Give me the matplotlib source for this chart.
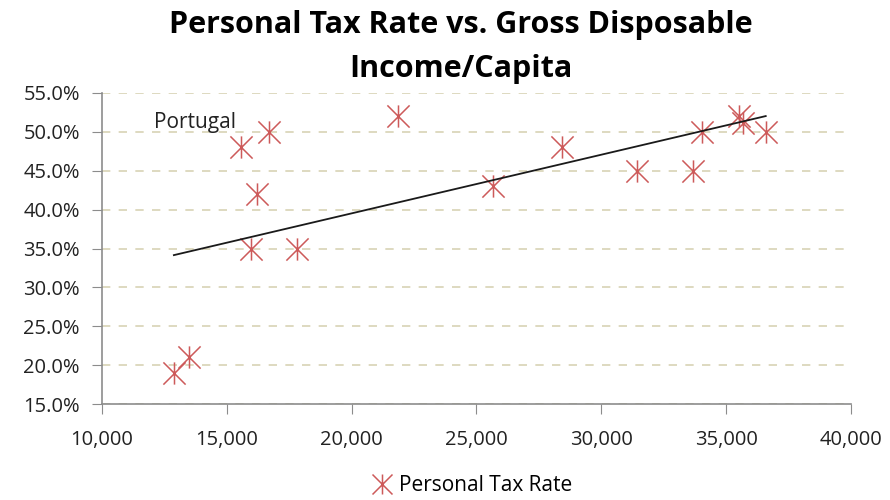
import numpy as np
import matplotlib.pyplot as plt
from matplotlib.path import Path
from matplotlib.ticker import FuncFormatter, MultipleLocator

# Gross disposable income per capita vs personal tax rate (%)
income = [12880, 13480, 15570, 16690, 16210, 15970, 17810, 21860,
          25660, 28410, 31450, 33680, 34020, 35520, 35660, 36590]
tax_rate = [19.0, 21.0, 48.0, 50.0, 42.0, 35.0, 35.0, 52.0,
            43.0, 48.0, 45.0, 45.0, 50.0, 52.0, 51.2, 50.0]

plt.rcParams['font.family'] = ['Open Sans', 'DejaVu Sans']

# X with a vertical bar, like the Excel asterisk marker
star = Path([(-1, -1), (1, 1), (-1, 1), (1, -1), (0, -1), (0, 1)],
            [Path.MOVETO, Path.LINETO, Path.MOVETO, Path.LINETO,
             Path.MOVETO, Path.LINETO])

fig = plt.figure(figsize=(8.9, 5), dpi=100)
ax = fig.add_axes([0.1146, 0.192, 0.8414, 0.622])

ax.plot(income, tax_rate, linestyle='none', marker=star, markersize=16,
        markeredgewidth=1.1, color='#cd5a5a', label='Personal Tax Rate')

# linear trendline
fit = np.polyfit(income, tax_rate, 1)
xs = np.array([min(income), max(income)])
ax.plot(xs, np.polyval(fit, xs), color='#1a1a1a', linewidth=1.3)

ax.text(12100, 51.2, 'Portugal', fontsize=15, va='center', ha='left', color='#222222')

ax.set_xlim(10000, 40000)
ax.set_ylim(15, 55)
ax.xaxis.set_major_locator(MultipleLocator(5000))
ax.yaxis.set_major_locator(MultipleLocator(5))
ax.xaxis.set_major_formatter(FuncFormatter(lambda v, p: f'{v:,.0f}'))
ax.yaxis.set_major_formatter(FuncFormatter(lambda v, p: f'{v:.1f}%'))
ax.grid(axis='y', color='#d8d3b5', linestyle=(0, (5, 5)), linewidth=1.2)
ax.set_axisbelow(True)

for s in ['top', 'right']:
    ax.spines[s].set_visible(False)
for s in ['left', 'bottom']:
    ax.spines[s].set_color('#8c8c8c')
    ax.spines[s].set_linewidth(1.2)
ax.tick_params(axis='both', direction='out', length=7, color='#8c8c8c',
               labelsize=14.5, labelcolor='#222222')
ax.tick_params(axis='y', pad=9)
ax.tick_params(axis='x', pad=12)

fig.text(0.518, 0.906, 'Personal Tax Rate vs. Gross Disposable\nIncome/Capita',
         fontsize=22, fontweight='bold', ha='center', va='center',
         linespacing=1.6, multialignment='center')

fig.legend(loc='lower center', bbox_to_anchor=(0.53, -0.03), frameon=False,
           fontsize=15, handlelength=1, handletextpad=0.3, markerscale=0.9)

fig.savefig('out.png', dpi=100)
